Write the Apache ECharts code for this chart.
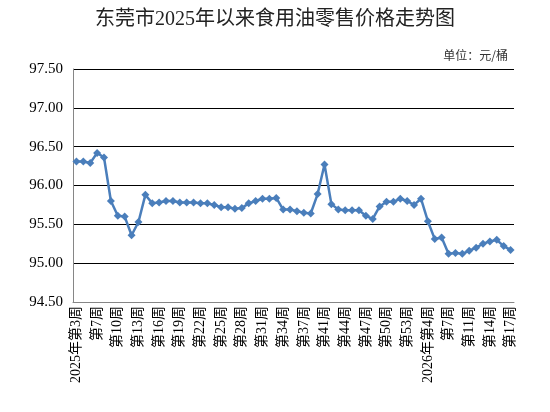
<!DOCTYPE html>
<html>
<head>
<meta charset="utf-8">
<script src="https://cdn.jsdelivr.net/npm/echarts@6/dist/echarts.min.js"></script>
<style>
  html, body { margin: 0; padding: 0; background: #fff; }
  #chart { width: 550px; height: 412px; }
</style>
</head>
<body>
<div id="chart"></div>
<script>
// 周次（每3个显示一个标签）
const weeks = [
  '2025年第3周', '第4周', '第6周', '第7周', '第8周', '第9周', '第10周', '第11周', '第12周', '第13周',
  '第14周', '第15周', '第16周', '第17周', '第18周', '第19周', '第20周', '第21周', '第22周', '第23周',
  '第24周', '第25周', '第26周', '第27周', '第28周', '第29周', '第30周', '第31周', '第32周', '第33周',
  '第34周', '第35周', '第36周', '第37周', '第38周', '第40周', '第41周', '第42周', '第43周', '第44周',
  '第45周', '第46周', '第47周', '第48周', '第49周', '第50周', '第51周', '第52周', '第53周', '第1周',
  '第2周', '2026年第4周', '第5周', '第6周', '第7周', '第9周', '第10周', '第11周', '第12周', '第13周',
  '第14周', '第15周', '第16周', '第17周'
]

// 食用油零售价格（元/桶）
const prices = [
  96.31, 96.31, 96.29, 96.42, 96.36, 95.80, 95.61, 95.60, 95.36, 95.53,
  95.88, 95.77, 95.78, 95.80, 95.80, 95.78, 95.78, 95.78, 95.77, 95.77,
  95.75, 95.72, 95.72, 95.70, 95.71, 95.77, 95.80, 95.83, 95.83, 95.84,
  95.69, 95.69, 95.67, 95.65, 95.64, 95.89, 96.27, 95.76, 95.69, 95.68,
  95.68, 95.68, 95.61, 95.57, 95.73, 95.79, 95.79, 95.83, 95.80, 95.75,
  95.83, 95.54, 95.31, 95.33, 95.12, 95.13, 95.12, 95.16, 95.20, 95.25,
  95.28, 95.30, 95.22, 95.17
]

const fontMix = "'Liberation Serif', 'Noto Sans CJK SC', serif"
const lineColor = '#4a7ebb'

const chart = echarts.init(document.getElementById('chart'))

const option = {
  animation: false,
  title: [
    {
      text: '东莞市2025年以来食用油零售价格走势图',
      left: 'center',
      top: 5,
      textStyle: { fontFamily: fontMix, fontSize: 20, fontWeight: 'normal', color: '#222' }
    },
    {
      text: '单位：元/桶',
      right: 37,
      top: 44,
      textStyle: { fontFamily: "'Noto Sans CJK SC', sans-serif", fontSize: 12, fontWeight: 'normal', color: '#333' }
    }
  ],
  grid: {
    left: 73,
    right: 36,
    top: 69,
    bottom: 110
  },
  xAxis: {
    type: 'category',
    data: weeks,
    boundaryGap: true,
    axisLine: { show: true, lineStyle: { color: '#868686', width: 1 } },
    axisTick: { show: false },
    axisLabel: {
      interval: 2,
      rotate: 90,
      margin: 4,
      fontFamily: fontMix,
      fontSize: 14,
      color: '#000'
    }
  },
  yAxis: {
    type: 'value',
    min: 94.5,
    max: 97.5,
    interval: 0.5,
    axisLine: { show: true, lineStyle: { color: '#868686', width: 1 } },
    axisTick: { show: false },
    axisLabel: {
      margin: 10,
      fontFamily: fontMix,
      fontSize: 15,
      color: '#000',
      formatter: (v) => v.toFixed(2)
    },
    splitLine: { show: true, lineStyle: { color: '#000', width: 1 } }
  },
  series: [
    {
      name: '零售价格',
      type: 'line',
      data: prices,
      symbol: 'diamond',
      symbolSize: 8,
      showAllSymbol: true,
      lineStyle: { color: lineColor, width: 2.5 },
      itemStyle: { color: lineColor }
    }
  ]
}

chart.setOption(option)
</script>
</body>
</html>
